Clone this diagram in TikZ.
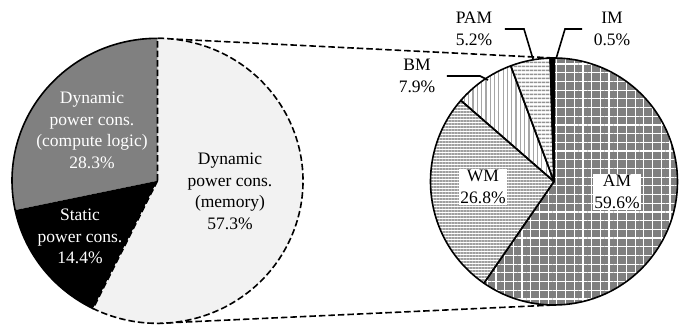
\documentclass[tikz,border=0pt]{standalone}
\usepackage{fontspec}
\setmainfont{Liberation Serif}
\usetikzlibrary{patterns.meta}
\definecolor{cpugray}{HTML}{808080}
\definecolor{memfill}{HTML}{F2F2F2}
\definecolor{amgray}{HTML}{7F7F7F}
\tikzset{
  lbl/.style={align=center, font=\fontsize{17.5}{21.5}\selectfont},
  boxlbl/.style={lbl, fill=white, inner sep=1pt},
  rimline/.style={line width=1.6pt, line join=round},
  zoomline/.style={line width=1.6pt, dash pattern=on 6.5pt off 3pt},
  leader/.style={line width=1.6pt}
}

\begin{document}
\begin{tikzpicture}[x=1pt,y=1pt]
    \useasboundingbox (0,0) rectangle (686,325);
    \coordinate (L) at (157.5,144.2);
    \coordinate (R) at (554,143.5);
    \coordinate (ltop) at (157.5,286.7);
    \coordinate (lbot) at (157.5,1.7);
    \coordinate (rtop) at (554,267);
    \coordinate (rbot) at (554,20);

    \draw[zoomline] (ltop) -- (rtop);
    \draw[zoomline] (lbot) -- (rbot);

    % left pie
    \fill[cpugray] (L) -- ++(0,142.5) arc[start angle=90, end angle=191.88, x radius=145.5, y radius=142.5] -- cycle;
    \fill[black] (L) -- ++({145.5*cos(191.88)},{142.5*sin(191.88)}) arc[start angle=191.88, end angle=243.72, x radius=145.5, y radius=142.5] -- cycle;
    \draw[rimline] (L) ++(0,142.5) arc[start angle=90, end angle=243.72, x radius=145.5, y radius=142.5];
    \filldraw[fill=memfill, zoomline] (L) -- ++({145.5*cos(243.72)},{142.5*sin(243.72)}) arc[start angle=243.72, end angle=450, x radius=145.5, y radius=142.5] -- cycle;

    % right pie
    \draw[rimline, preaction={fill=amgray}, pattern={Hatch[distance=8.7pt, line width=1.2pt]}, pattern color=white]
        (R) -- ++(235.44:123.5) arc[start angle=235.44, end angle=450, radius=123.5] -- cycle;
    \draw[rimline, pattern={Lines[angle=0, distance=3pt, line width=1.4pt]}, pattern color=gray!75]
        (R) -- ++(138.96:123.5) arc[start angle=138.96, end angle=235.44, radius=123.5] -- cycle;
    \draw[rimline, pattern={Lines[angle=90, distance=4.3pt, line width=1.2pt]}, pattern color=gray!70]
        (R) -- ++(110.52:123.5) arc[start angle=110.52, end angle=138.96, radius=123.5] -- cycle;
    \draw[rimline, pattern={Lines[angle=0, distance=4pt, line width=1.8pt]}, pattern color=gray!85]
        (R) -- ++(91.8:123.5) arc[start angle=91.8, end angle=110.52, radius=123.5] -- cycle;
    \filldraw[rimline, fill=black]
        (R) -- ++(90:123.5) arc[start angle=90, end angle=91.8, radius=123.5] -- cycle;

    \node[lbl, text=white] (cpu) at (92,194.5) {Dynamic\\power cons.\\(compute logic)\\28.3\%};
    \node[lbl, text=white] (stat) at (80,88.3) {Static\\power cons.\\14.4\%};
    \node[lbl] (mem) at (230,133.5) {Dynamic\\power cons.\\(memory)\\57.3\%};
    \node[boxlbl] (am) at (617,133) {AM\\59.6\%};
    \node[boxlbl] (wm) at (483,138) {WM\\26.8\%};
    \node[lbl] (bm) at (417,249) {BM\\7.9\%};
    \node[lbl] (pam) at (474,296) {PAM\\5.2\%};
    \node[lbl] (im) at (612,296) {IM\\0.5\%};

    \coordinate (bmknee) at (480,249);
    \coordinate (bmtip) at (488,245);
    \coordinate (pamknee) at (524,296);
    \coordinate (pamtip) at (533,266);
    \coordinate (imknee) at (565,296);
    \coordinate (imtip) at (556,266);
    \draw[leader] ([xshift=8pt]bm.east) -- (bmknee) -- (bmtip);
    \draw[leader] ([xshift=9pt]pam.east) -- (pamknee) -- (pamtip);
    \draw[leader] ([xshift=-8pt]im.west) -- (imknee) -- (imtip);
\end{tikzpicture}
\end{document}
